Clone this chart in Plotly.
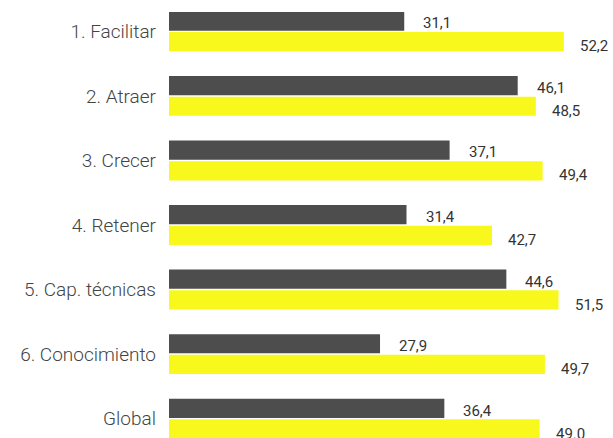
import plotly.graph_objects as go

categorias = ['1. Facilitar', '2. Atraer', '3. Crecer', '4. Retener',
              '5. Cap. técnicas', '6. Conocimiento', 'Global']
serie_gris = [31.1, 46.1, 37.1, 31.4, 44.6, 27.9, 36.4]
serie_amarilla = [52.2, 48.5, 49.4, 42.7, 51.5, 49.7, 49.0]
etiquetas_gris = ['31,1', '46,1', '37,1', '31,4', '44,6', '27,9', '36,4']
etiquetas_amarilla = ['52,2', '48,5', '49,4', '42,7', '51,5', '49,7', '49.0']

GRIS = '#4d4d4d'
AMARILLO = '#f8f81c'

fig = go.Figure()
fig.add_trace(go.Bar(y=categorias, x=serie_gris, orientation='h',
                     marker=dict(color=GRIS, line=dict(width=0)), name='gris'))
fig.add_trace(go.Bar(y=categorias, x=serie_amarilla, orientation='h',
                     marker=dict(color=AMARILLO, line=dict(width=0)), name='amarilla'))

# value labels, sitting a bit right of and below each bar end
for cat, v, t in zip(categorias, serie_gris, etiquetas_gris):
    fig.add_annotation(x=v, y=cat, text=t, showarrow=False, xanchor='left',
                       xshift=17, yshift=8, font=dict(size=15, color='#333333'))
for cat, v, t in zip(categorias, serie_amarilla, etiquetas_amarilla):
    fig.add_annotation(x=v, y=cat, text=t, showarrow=False, xanchor='left',
                       xshift=14, yshift=-15, font=dict(size=15, color='#333333'))

fig.update_layout(
    width=613, height=438,
    margin=dict(l=169, r=0, t=12, b=0, autoexpand=False),
    barmode='group', bargap=0.36, bargroupgap=0.07,
    showlegend=False,
    plot_bgcolor='white', paper_bgcolor='white',
    font=dict(family='Roboto', color='#333333'),
    xaxis=dict(range=[0, 58.7], visible=False, fixedrange=True, automargin=False),
    yaxis=dict(range=[6.3, -0.3], showgrid=False, zeroline=False, showline=False,
               ticks='', ticklabelstandoff=12, automargin=False,
               tickfont=dict(family='Roboto', size=19, color='#444444', weight=300)),
)

# default page body margin would push the figure out of the window
fig.write_html('out.html', config={'displayModeBar': False},
               post_script="document.body.style.margin='0';")
